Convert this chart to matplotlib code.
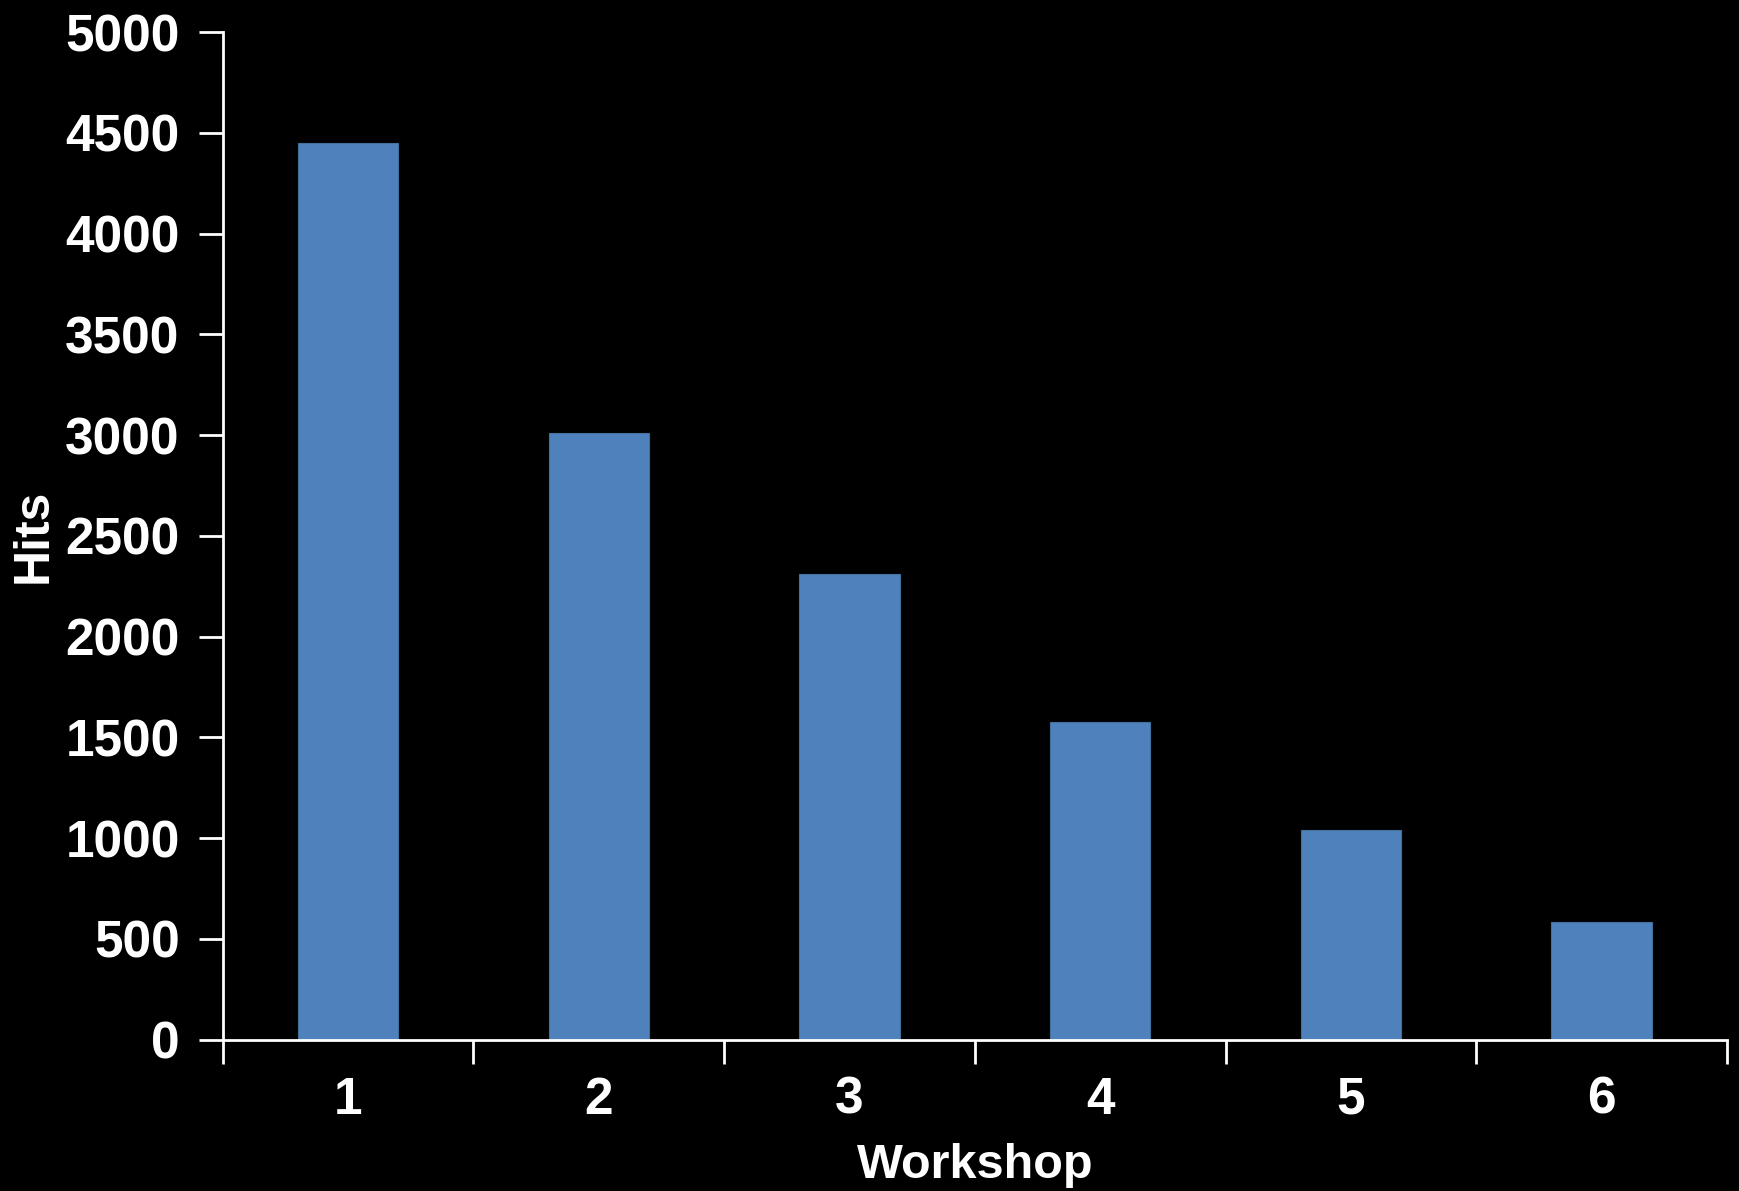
import numpy as np
import matplotlib.pyplot as plt
from matplotlib.ticker import FixedLocator

# 数据：每次 workshop 的点击数
workshops = ["1", "2", "3", "4", "5", "6"]
hits = [4450, 3010, 2310, 1575, 1040, 582]
y_ticks = [0, 500, 1000, 1500, 2000, 2500, 3000, 3500, 4000, 4500, 5000]

plt.rcParams["font.family"] = ["Liberation Sans", "DejaVu Sans"]
plt.rcParams["font.weight"] = "bold"

fig = plt.figure(figsize=(17.4, 11.91), dpi=100, facecolor="black")
ax = fig.add_axes([0.128, 0.127, 0.8645, 0.846])
ax.set_facecolor("black")

x = np.arange(1, len(workshops) + 1)
ax.bar(x, hits, width=0.4, color="#4F81BD", edgecolor="#41719C", linewidth=0.8, zorder=2)

ax.set_xlim(0.5, len(workshops) + 0.5)
ax.set_ylim(0, 5000)
ax.set_yticks(y_ticks)
ax.set_xticks(x)
ax.set_xticklabels(workshops)
# 分类边界上的刻度线
ax.xaxis.set_minor_locator(FixedLocator(np.arange(0.5, len(workshops) + 1, 1.0)))

for side in ["top", "right"]:
    ax.spines[side].set_visible(False)
for side in ["left", "bottom"]:
    ax.spines[side].set_color("white")
    ax.spines[side].set_linewidth(2)

ax.tick_params(axis="y", colors="white", labelsize=37, length=17, width=2, pad=14)
ax.tick_params(axis="x", which="major", colors="white", labelsize=37, length=0, pad=26)
ax.tick_params(axis="x", which="minor", colors="white", length=17, width=2)
for lbl in ax.get_xticklabels() + ax.get_yticklabels():
    lbl.set_fontweight("bold")

ax.set_xlabel("Workshop", color="white", fontsize=35, fontweight="bold", labelpad=13)
ax.set_ylabel("Hits", color="white", fontsize=36, fontweight="bold", labelpad=6)

fig.savefig("out.png", dpi=100, facecolor="black")
